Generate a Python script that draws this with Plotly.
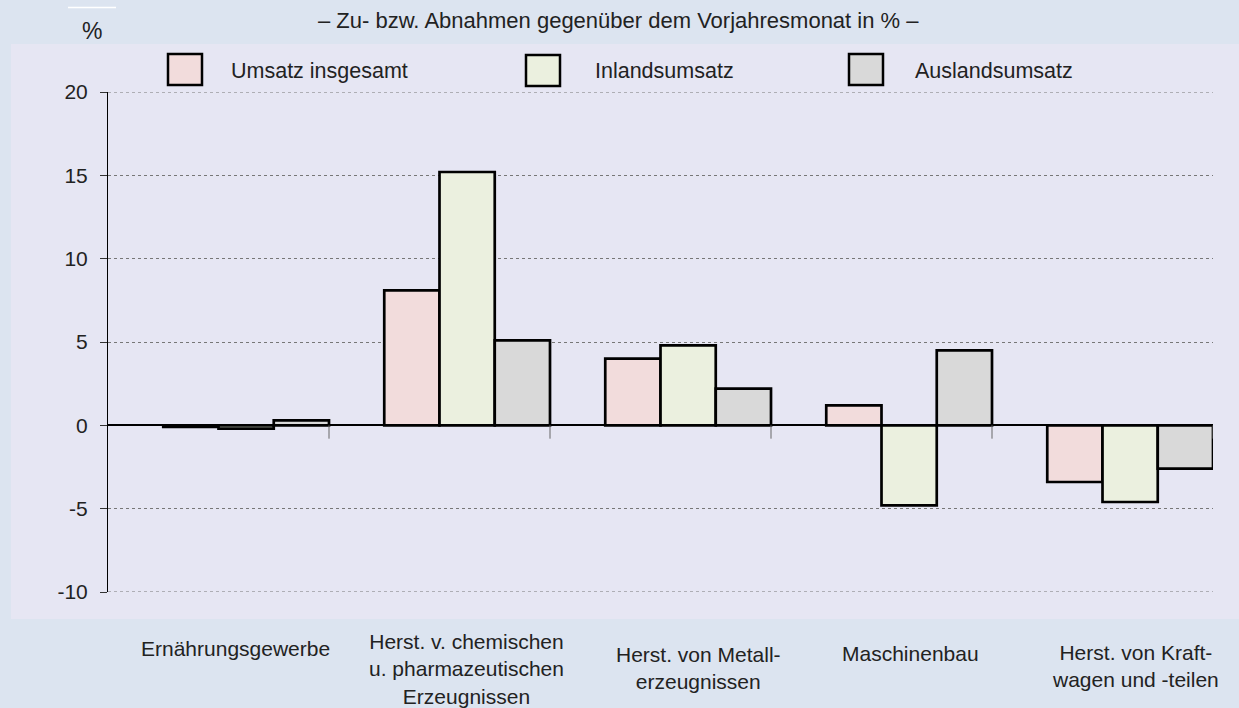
import plotly.graph_objects as go

categories = ["Ernährungsgewerbe",
              "Herst. v. chemischen<br>u. pharmazeutischen<br>Erzeugnissen",
              "Herst. von Metall-<br>erzeugnissen",
              "Maschinenbau",
              "Herst. von Kraft-<br>wagen und -teilen"]
series_names = ["Umsatz insgesamt", "Inlandsumsatz", "Auslandsumsatz"]
umsatz = [-0.1, 8.1, 4.0, 1.2, -3.4]
inland = [-0.2, 15.2, 4.8, -4.8, -4.6]
ausland = [0.3, 5.1, 2.2, 4.5, -2.6]
y_ticks = [-10, -5, 0, 5, 10, 15, 20]

colors = ["#f2dcdc", "#ebf0df", "#d9d9d9"]
FONT = "Liberation Sans, Arial, sans-serif"
W, H = 1239, 708
L, R, T, B = 108, 26, 92, 116
PW, PH = W - L - R, H - T - B

def px(x):
    return (x - L) / PW

def py(y):
    return (H - B - y) / PH

fig = go.Figure()
xs = list(range(len(categories)))
for k, (name, vals) in enumerate(zip(series_names, [umsatz, inland, ausland])):
    fig.add_trace(go.Bar(
        x=xs, y=vals, name=name, width=0.25, offset=-0.25 + 0.25 * k,
        marker=dict(color=colors[k], line=dict(color="black", width=2.7)),
        showlegend=False))

shapes = []
# inner panel
shapes.append(dict(type="rect", xref="paper", yref="paper", layer="below",
                   x0=px(11), x1=px(1245), y0=py(619), y1=py(44),
                   fillcolor="#e6e6f3", line=dict(width=0)))
# edge gridlines (top and bottom of range)
for gy in (max(y_ticks), min(y_ticks)):
    shapes.append(dict(type="line", xref="paper", yref="y", layer="below",
                       x0=0, x1=1, y0=gy, y1=gy,
                       line=dict(color="#777", width=1, dash="dot")))
# white line above %
shapes.append(dict(type="line", xref="paper", yref="paper",
                   x0=px(68), x1=px(116), y0=py(7.5), y1=py(7.5),
                   line=dict(color="white", width=1.5)))
# x-axis category boundary ticks at zero line
for b in [0.5, 1.5, 2.5, 3.5, 4.5]:
    shapes.append(dict(type="line", xref="x", yref="y", x0=b, x1=b, y0=0, y1=-0.8,
                       line=dict(color="#666", width=1)))
# legend swatches
sw = [(168, 54), (526, 55), (849, 54)]
txt_x = [229, 593, 913]
annotations = []
for k, ((sx, sy), tx) in enumerate(zip(sw, txt_x)):
    shapes.append(dict(type="rect", xref="paper", yref="paper",
                       x0=px(sx), x1=px(sx + 34), y0=py(sy + 31), y1=py(sy),
                       fillcolor=colors[k], line=dict(color="black", width=2.5)))
    annotations.append(dict(xref="paper", yref="paper", x=px(tx), y=py(71),
                            xanchor="left", yanchor="middle", showarrow=False,
                            text=series_names[k], font=dict(size=21.5, color="#222")))

# title and unit
annotations.append(dict(xref="paper", yref="paper", x=px(618), y=py(20),
                        xanchor="center", yanchor="middle", showarrow=False,
                        text="– Zu- bzw. Abnahmen gegenüber dem Vorjahresmonat in % –",
                        font=dict(size=22, color="#222")))
annotations.append(dict(xref="paper", yref="paper", x=px(92), y=py(31),
                        xanchor="center", yanchor="middle", showarrow=False,
                        text="%", font=dict(size=23, color="#222")))

# category labels
lab_x = [235, 466, 698, 910, 1135]
lab_y = [648, 669, 668, 653, 666]
for c, lx, ly in zip(categories, lab_x, lab_y):
    annotations.append(dict(xref="paper", yref="paper", x=px(lx), y=py(ly),
                            xanchor="center", yanchor="middle", showarrow=False,
                            text=c, align="center", font=dict(size=21, color="#222")))

fig.update_layout(
    width=W, height=H, margin=dict(l=L, r=R, t=T, b=B, pad=0),
    paper_bgcolor="#dce4f0", plot_bgcolor="rgba(0,0,0,0)",
    barmode="overlay", font=dict(family=FONT, size=21, color="#222"),
    shapes=shapes, annotations=annotations,
    xaxis=dict(range=[-0.5, 4.5], showticklabels=False, showgrid=False,
               zeroline=False, ticks="", showline=False, fixedrange=True),
    yaxis=dict(range=[-10, 20], tickvals=y_ticks, ticktext=[str(v) for v in y_ticks],
               showgrid=True, gridcolor="#777", griddash="dot", gridwidth=1,
               zeroline=True, zerolinecolor="black", zerolinewidth=1.5,
               showline=True, linecolor="black", linewidth=1,
               ticks="outside", ticklen=7, tickcolor="#333", tickwidth=1,
               ticklabelstandoff=8, tickfont=dict(size=21, color="#222"),
               fixedrange=True),
)

fig.write_html("out.html", config={"displayModeBar": False},
               post_script="document.body.style.margin='0';")
